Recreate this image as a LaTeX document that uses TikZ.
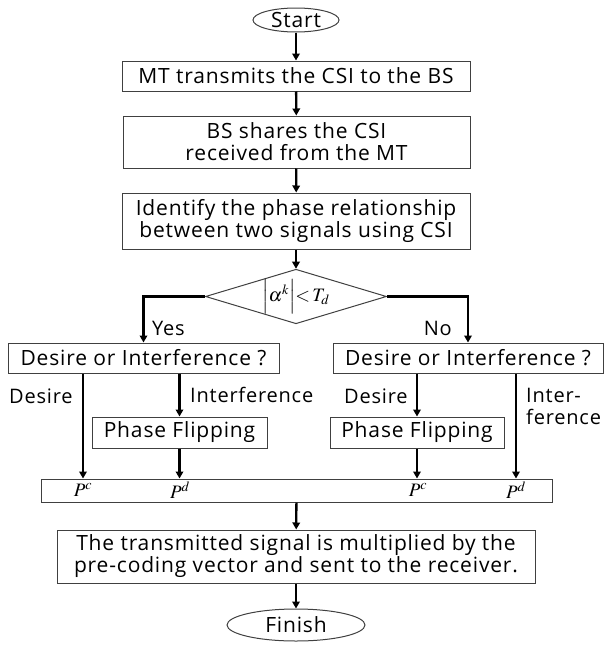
\documentclass[tikz,border=0pt]{standalone}
\usepackage{mathptmx}
\usepackage{fontspec}
\setmainfont[LetterSpace=4]{Open Sans}
\usetikzlibrary{arrows.meta,shapes.geometric}
\begin{document}
\begin{tikzpicture}[x=1pt,y=-1pt,
  box/.style={draw=black!75,line width=1pt,rectangle,inner sep=0pt,align=center,
    font=\fontsize{21}{22}\selectfont},
  term/.style={draw=black!75,line width=1pt,ellipse,inner sep=0pt,
    font=\fontsize{21}{22}\selectfont},
  arr/.style={line width=2.3pt,-{Triangle[length=7pt,width=7.5pt]}},
  lbl/.style={inner sep=0pt,font=\fontsize{20}{22}\selectfont},
  pl/.style={inner sep=0pt,font=\fontsize{19}{19}\selectfont}]
\useasboundingbox (0,0) rectangle (604,645);
\node[term,minimum width=86pt,minimum height=24pt] (start) at (296,20) {Start};
\node[box,minimum width=348pt,minimum height=30pt] (b1) at (296,76) {MT transmits the CSI to the BS};
\node[box,minimum width=347pt,minimum height=52pt] (b2) at (296.5,142) {BS shares the CSI\\received from the MT};
\node[box,minimum width=348pt,minimum height=56pt] (b3) at (296,221) {Identify the phase relationship\\between two signals using CSI};
\node[draw=black!75,line width=1pt,diamond,aspect=3.32,inner sep=0pt,minimum width=176pt,minimum height=53pt,
  font=\fontsize{19}{19}\selectfont] (dia) at (296,296.5) {$\Bigl|\alpha^{k}\Bigr|\!\!<\!T_d$};
\node[box,minimum width=271pt,minimum height=30pt] (dl) at (143.5,358) {Desire or Interference ?};
\node[box,minimum width=270pt,minimum height=30pt] (dr) at (468,358) {Desire or Interference ?};
\node[box,minimum width=175pt,minimum height=31pt] (pfl) at (179.5,432.5) {Phase Flipping};
\node[box,minimum width=174pt,minimum height=31pt] (pfr) at (417,432.5) {Phase Flipping};
\node[box,minimum width=511pt,minimum height=23pt] (bar) at (296.5,490.5) {};
\node[pl] (pc1) at (83,490) {$P^c$};
\node[pl] (pd1) at (180,490) {$P^d$};
\node[pl] (pc2) at (418,490) {$P^c$};
\node[pl] (pd2) at (516,490) {$P^d$};
\node[box,minimum width=478pt,minimum height=53pt] (fin) at (296,556.5) {The transmitted signal is multiplied by the\\pre-coding vector and sent to the receiver.};
\node[term,minimum width=138pt,minimum height=32pt] (finish) at (296,625) {Finish};
% labels
\node[lbl,anchor=west] (yes) at (152,328) {Yes};
\node[lbl,anchor=east] (no) at (452,328) {No};
\node[lbl,anchor=west] (des1) at (9,396) {Desire};
\node[lbl,anchor=west] (int1) at (190,395) {Interference};
\node[lbl,anchor=west] (des2) at (344,396) {Desire};
\node[lbl,anchor=west,align=left] (int2) at (526,406) {Inter-\\ference};
% connectors
\draw[arr] (start) -- (b1);
\draw[arr] (b1) -- (b2);
\draw[arr] (b2) -- (b3);
\draw[arr] (b3) -- (dia);
\draw[arr] (dia.west) -| (dl.north);
\draw[arr] (dia.east) -| (dr.north);
\draw[arr] (dl.south -| pc1) -- (bar.north -| pc1);
\draw[arr] (dl.south -| pfl) -- (pfl.north);
\draw[arr] (pfl.south) -- (bar.north -| pfl);
\draw[arr] (dr.south -| pfr) -- (pfr.north);
\draw[arr] (pfr.south) -- (bar.north -| pfr);
\draw[arr] (dr.south -| pd2) -- (bar.north -| pd2);
\draw[arr] (bar) -- (fin);
\draw[arr] (fin) -- (finish);
\end{tikzpicture}
\end{document}
